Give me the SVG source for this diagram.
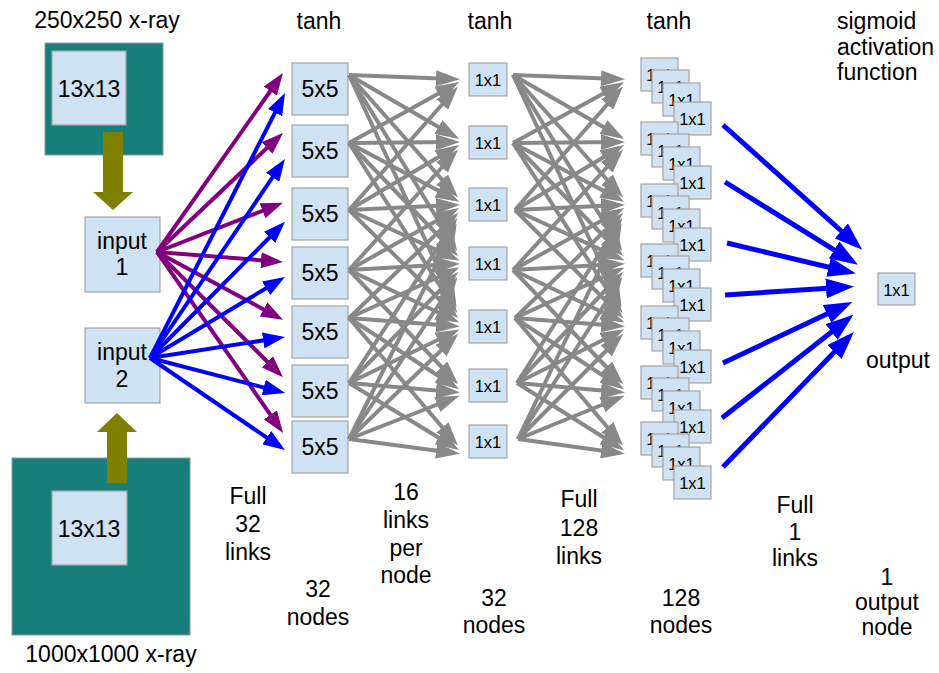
<svg xmlns="http://www.w3.org/2000/svg" width="939" height="673" viewBox="0 0 939 673">
<style>
text{font-family:"Liberation Sans",Arial,sans-serif;font-size:23px;fill:#000;text-anchor:middle}
.s{font-size:16.5px}
.box{fill:#cfe2f3;stroke:#a3a3a3;stroke-width:1.2}
.teal{fill:#167f7b;stroke:#8a9a9a;stroke-width:1}
.olive{fill:#808000}
.g{stroke:#888;stroke-width:4;fill:none;marker-end:url(#ag)}
.p{stroke:#800080;stroke-width:4;fill:none;marker-end:url(#ap)}
.b{stroke:#0000ff;stroke-width:4;fill:none;marker-end:url(#ab)}
.bo{stroke:#0000ff;stroke-width:5;fill:none;marker-end:url(#abo)}
.lt{text-anchor:start}
</style>
<defs>
<marker id="ag" viewBox="0 0 24 16" refX="18" refY="8" markerWidth="24" markerHeight="16" markerUnits="userSpaceOnUse" orient="auto"><path d="M0,0 L24,8 L0,16 z" fill="#888"/></marker>
<marker id="ap" viewBox="0 0 22 16" refX="16" refY="8" markerWidth="22" markerHeight="16" markerUnits="userSpaceOnUse" orient="auto"><path d="M0,0 L22,8 L0,16 z" fill="#800080"/></marker>
<marker id="ab" viewBox="0 0 22 16" refX="16" refY="8" markerWidth="22" markerHeight="16" markerUnits="userSpaceOnUse" orient="auto"><path d="M0,0 L22,8 L0,16 z" fill="#0000ff"/></marker>
<marker id="abo" viewBox="0 0 28 20" refX="21" refY="10" markerWidth="28" markerHeight="20" markerUnits="userSpaceOnUse" orient="auto"><path d="M0,0 L28,10 L0,20 z" fill="#0000ff"/></marker>
</defs>

<g id="labels">
<text x="107" y="28">250x250 x-ray</text>
<text x="111" y="662">1000x1000 x-ray</text>
<text x="319" y="29">tanh</text>
<text x="490" y="29">tanh</text>
<text x="669" y="29">tanh</text>
<text class="lt" x="837" y="29">sigmoid</text>
<text class="lt" x="837" y="55">activation</text>
<text class="lt" x="837" y="80">function</text>
<text x="248" y="504">Full</text><text x="248" y="532">32</text><text x="248" y="560">links</text>
<text x="318" y="597">32</text><text x="318" y="625">nodes</text>
<text x="406" y="500">16</text><text x="406" y="528">links</text><text x="406" y="556">per</text><text x="406" y="583">node</text>
<text x="494" y="606">32</text><text x="494" y="633">nodes</text>
<text x="579" y="507">Full</text><text x="579" y="536">128</text><text x="579" y="564">links</text>
<text x="681" y="606">128</text><text x="681" y="633">nodes</text>
<text x="795" y="513">Full</text><text x="795" y="540">1</text><text x="795" y="566">links</text>
<text x="898" y="368">output</text>
<text x="887" y="585">1</text><text x="887" y="610">output</text><text x="887" y="635">node</text>
</g>

<g id="xray250">
<rect class="teal" x="45" y="43" width="118" height="112"/>
<rect class="box" x="52" y="51" width="74" height="74"/>
<text x="89" y="97">13x13</text>
</g>
<g id="xray1000">
<rect class="teal" x="12" y="458" width="178" height="177"/>
<rect class="box" x="52" y="491" width="75" height="74"/>
<text x="89" y="537">13x13</text>
</g>
<g id="input1"><rect class="box" x="85" y="217" width="75" height="75"/><text x="122" y="249">input</text><text x="122" y="275">1</text></g>
<g id="input2"><rect class="box" x="85" y="328" width="75" height="75"/><text x="122" y="360">input</text><text x="122" y="387">2</text></g>

<g id="conv">
<g id="c1"><rect class="box" x="292" y="63" width="56" height="52"/><text x="320" y="97">5x5</text></g>
<g id="c2"><rect class="box" x="292" y="125" width="56" height="52"/><text x="320" y="159">5x5</text></g>
<g id="c3"><rect class="box" x="292" y="188" width="56" height="52"/><text x="320" y="222">5x5</text></g>
<g id="c4"><rect class="box" x="292" y="247" width="56" height="52"/><text x="320" y="281">5x5</text></g>
<g id="c5"><rect class="box" x="292" y="306" width="56" height="52"/><text x="320" y="340">5x5</text></g>
<g id="c6"><rect class="box" x="292" y="365" width="56" height="52"/><text x="320" y="399">5x5</text></g>
<g id="c7"><rect class="box" x="292" y="421" width="56" height="52"/><text x="320" y="455">5x5</text></g>
</g>

<g id="hidden1">
<g id="h1"><rect class="box" x="469" y="63" width="38" height="33"/><text class="s" x="488" y="86">1x1</text></g>
<g id="h2"><rect class="box" x="469" y="126" width="38" height="33"/><text class="s" x="488" y="149">1x1</text></g>
<g id="h3"><rect class="box" x="469" y="188" width="38" height="33"/><text class="s" x="488" y="211">1x1</text></g>
<g id="h4"><rect class="box" x="469" y="247" width="38" height="33"/><text class="s" x="488" y="270">1x1</text></g>
<g id="h5"><rect class="box" x="469" y="310" width="38" height="33"/><text class="s" x="488" y="333">1x1</text></g>
<g id="h6"><rect class="box" x="469" y="369" width="38" height="33"/><text class="s" x="488" y="392">1x1</text></g>
<g id="h7"><rect class="box" x="469" y="425" width="38" height="33"/><text class="s" x="488" y="448">1x1</text></g>
</g>

<g id="hidden2">
<g id="s1" transform="translate(641,58)">
<rect class="box" x="0" y="0" width="37" height="33"/><text class="s" x="18.5" y="23">1x1</text>
<rect class="box" x="11" y="12" width="37" height="33"/><text class="s" x="29.5" y="35">1x1</text>
<rect class="box" x="22" y="25" width="37" height="33"/><text class="s" x="40.5" y="48">1x1</text>
<rect class="box" x="33" y="44" width="37" height="33"/><text class="s" x="51.5" y="67">1x1</text>
</g>
<g id="s2" transform="translate(641,122)">
<rect class="box" x="0" y="0" width="37" height="33"/><text class="s" x="18.5" y="23">1x1</text>
<rect class="box" x="11" y="12" width="37" height="33"/><text class="s" x="29.5" y="35">1x1</text>
<rect class="box" x="22" y="25" width="37" height="33"/><text class="s" x="40.5" y="48">1x1</text>
<rect class="box" x="33" y="44" width="37" height="33"/><text class="s" x="51.5" y="67">1x1</text>
</g>
<g id="s3" transform="translate(641,184)">
<rect class="box" x="0" y="0" width="37" height="33"/><text class="s" x="18.5" y="23">1x1</text>
<rect class="box" x="11" y="12" width="37" height="33"/><text class="s" x="29.5" y="35">1x1</text>
<rect class="box" x="22" y="25" width="37" height="33"/><text class="s" x="40.5" y="48">1x1</text>
<rect class="box" x="33" y="44" width="37" height="33"/><text class="s" x="51.5" y="67">1x1</text>
</g>
<g id="s4" transform="translate(641,244)">
<rect class="box" x="0" y="0" width="37" height="33"/><text class="s" x="18.5" y="23">1x1</text>
<rect class="box" x="11" y="12" width="37" height="33"/><text class="s" x="29.5" y="35">1x1</text>
<rect class="box" x="22" y="25" width="37" height="33"/><text class="s" x="40.5" y="48">1x1</text>
<rect class="box" x="33" y="44" width="37" height="33"/><text class="s" x="51.5" y="67">1x1</text>
</g>
<g id="s5" transform="translate(641,306)">
<rect class="box" x="0" y="0" width="37" height="33"/><text class="s" x="18.5" y="23">1x1</text>
<rect class="box" x="11" y="12" width="37" height="33"/><text class="s" x="29.5" y="35">1x1</text>
<rect class="box" x="22" y="25" width="37" height="33"/><text class="s" x="40.5" y="48">1x1</text>
<rect class="box" x="33" y="44" width="37" height="33"/><text class="s" x="51.5" y="67">1x1</text>
</g>
<g id="s6" transform="translate(641,366)">
<rect class="box" x="0" y="0" width="37" height="33"/><text class="s" x="18.5" y="23">1x1</text>
<rect class="box" x="11" y="12" width="37" height="33"/><text class="s" x="29.5" y="35">1x1</text>
<rect class="box" x="22" y="25" width="37" height="33"/><text class="s" x="40.5" y="48">1x1</text>
<rect class="box" x="33" y="44" width="37" height="33"/><text class="s" x="51.5" y="67">1x1</text>
</g>
<g id="s7" transform="translate(641,422)">
<rect class="box" x="0" y="0" width="37" height="33"/><text class="s" x="18.5" y="23">1x1</text>
<rect class="box" x="11" y="12" width="37" height="33"/><text class="s" x="29.5" y="35">1x1</text>
<rect class="box" x="22" y="25" width="37" height="33"/><text class="s" x="40.5" y="48">1x1</text>
<rect class="box" x="33" y="44" width="37" height="33"/><text class="s" x="51.5" y="67">1x1</text>
</g>
</g>

<g id="output"><rect class="box" x="878" y="273" width="37" height="32"/><text class="s" x="896.5" y="296">1x1</text></g>

<g id="connectors">
<path class="olive" d="M103,132 H123 V192 H133 L113,210 L93,192 H103 Z"/>
<path class="olive" d="M107,483 V432 H97 L117,413 L137,432 H127 V483 Z"/>
<line class="p" x1="157" y1="252" x2="279.5" y2="78"/>
<line class="p" x1="157" y1="252" x2="278.6" y2="137"/>
<line class="p" x1="157" y1="252" x2="277.4" y2="205"/>
<line class="p" x1="157" y1="252" x2="277" y2="261.5"/>
<line class="p" x1="157" y1="252" x2="277.7" y2="317"/>
<line class="p" x1="157" y1="252" x2="278.7" y2="373"/>
<line class="p" x1="157" y1="252" x2="279.6" y2="428"/>
<line class="b" x1="150" y1="358" x2="282.3" y2="98.4"/>
<line class="b" x1="150" y1="358" x2="281.6" y2="164"/>
<line class="b" x1="150" y1="358" x2="280.8" y2="226"/>
<line class="b" x1="150" y1="358" x2="279.8" y2="280"/>
<line class="b" x1="150" y1="358" x2="279" y2="338"/>
<line class="b" x1="150" y1="358" x2="279.2" y2="391.5"/>
<line class="b" x1="150" y1="358" x2="280" y2="446.6"/>
<line class="g" x1="349" y1="75" x2="454" y2="79"/>
<line class="g" x1="349" y1="75" x2="454" y2="136"/>
<line class="g" x1="349" y1="75" x2="454" y2="193"/>
<line class="g" x1="349" y1="75" x2="454" y2="246"/>
<line class="g" x1="349" y1="75" x2="454" y2="302"/>
<line class="g" x1="349" y1="143" x2="454" y2="85"/>
<line class="g" x1="349" y1="143" x2="454" y2="142"/>
<line class="g" x1="349" y1="143" x2="454" y2="199"/>
<line class="g" x1="349" y1="143" x2="454" y2="252"/>
<line class="g" x1="349" y1="143" x2="454" y2="308"/>
<line class="g" x1="349" y1="210" x2="454" y2="91"/>
<line class="g" x1="349" y1="210" x2="454" y2="148"/>
<line class="g" x1="349" y1="210" x2="454" y2="205"/>
<line class="g" x1="349" y1="210" x2="454" y2="258"/>
<line class="g" x1="349" y1="210" x2="454" y2="314"/>
<line class="g" x1="349" y1="270" x2="454" y2="154"/>
<line class="g" x1="349" y1="270" x2="454" y2="211"/>
<line class="g" x1="349" y1="270" x2="454" y2="264"/>
<line class="g" x1="349" y1="270" x2="454" y2="320"/>
<line class="g" x1="349" y1="270" x2="454" y2="380"/>
<line class="g" x1="349" y1="318" x2="454" y2="217"/>
<line class="g" x1="349" y1="318" x2="454" y2="270"/>
<line class="g" x1="349" y1="318" x2="454" y2="326"/>
<line class="g" x1="349" y1="318" x2="454" y2="386"/>
<line class="g" x1="349" y1="318" x2="454" y2="441"/>
<line class="g" x1="349" y1="383" x2="454" y2="223"/>
<line class="g" x1="349" y1="383" x2="454" y2="276"/>
<line class="g" x1="349" y1="383" x2="454" y2="332"/>
<line class="g" x1="349" y1="383" x2="454" y2="392"/>
<line class="g" x1="349" y1="383" x2="454" y2="447"/>
<line class="g" x1="349" y1="439" x2="454" y2="229"/>
<line class="g" x1="349" y1="439" x2="454" y2="282"/>
<line class="g" x1="349" y1="439" x2="454" y2="338"/>
<line class="g" x1="349" y1="439" x2="454" y2="398"/>
<line class="g" x1="349" y1="439" x2="454" y2="453"/>
<line class="g" x1="513" y1="75" x2="619" y2="79"/>
<line class="g" x1="513" y1="75" x2="619" y2="136"/>
<line class="g" x1="513" y1="75" x2="619" y2="193"/>
<line class="g" x1="513" y1="75" x2="619" y2="246"/>
<line class="g" x1="513" y1="75" x2="619" y2="302"/>
<line class="g" x1="513" y1="143" x2="619" y2="85"/>
<line class="g" x1="513" y1="143" x2="619" y2="142"/>
<line class="g" x1="513" y1="143" x2="619" y2="199"/>
<line class="g" x1="513" y1="143" x2="619" y2="252"/>
<line class="g" x1="513" y1="143" x2="619" y2="308"/>
<line class="g" x1="515" y1="210" x2="619" y2="91"/>
<line class="g" x1="515" y1="210" x2="619" y2="148"/>
<line class="g" x1="515" y1="210" x2="619" y2="205"/>
<line class="g" x1="515" y1="210" x2="619" y2="258"/>
<line class="g" x1="515" y1="210" x2="619" y2="314"/>
<line class="g" x1="513" y1="270" x2="619" y2="154"/>
<line class="g" x1="513" y1="270" x2="619" y2="211"/>
<line class="g" x1="513" y1="270" x2="619" y2="264"/>
<line class="g" x1="513" y1="270" x2="619" y2="320"/>
<line class="g" x1="513" y1="270" x2="619" y2="380"/>
<line class="g" x1="515" y1="318" x2="619" y2="217"/>
<line class="g" x1="515" y1="318" x2="619" y2="270"/>
<line class="g" x1="515" y1="318" x2="619" y2="326"/>
<line class="g" x1="515" y1="318" x2="619" y2="386"/>
<line class="g" x1="515" y1="318" x2="619" y2="441"/>
<line class="g" x1="517" y1="383" x2="619" y2="223"/>
<line class="g" x1="517" y1="383" x2="619" y2="276"/>
<line class="g" x1="517" y1="383" x2="619" y2="332"/>
<line class="g" x1="517" y1="383" x2="619" y2="392"/>
<line class="g" x1="517" y1="383" x2="619" y2="447"/>
<line class="g" x1="518" y1="439" x2="619" y2="229"/>
<line class="g" x1="518" y1="439" x2="619" y2="282"/>
<line class="g" x1="518" y1="439" x2="619" y2="338"/>
<line class="g" x1="518" y1="439" x2="619" y2="398"/>
<line class="g" x1="518" y1="439" x2="619" y2="453"/>
<line class="bo" x1="723" y1="125" x2="857" y2="245"/>
<line class="bo" x1="725" y1="182" x2="852" y2="261"/>
<line class="bo" x1="727" y1="243" x2="849" y2="272"/>
<line class="bo" x1="725" y1="295" x2="847" y2="287"/>
<line class="bo" x1="723" y1="363" x2="846" y2="305"/>
<line class="bo" x1="722" y1="418" x2="848" y2="319"/>
<line class="bo" x1="723" y1="467" x2="849" y2="337"/>
</g>
</svg>
